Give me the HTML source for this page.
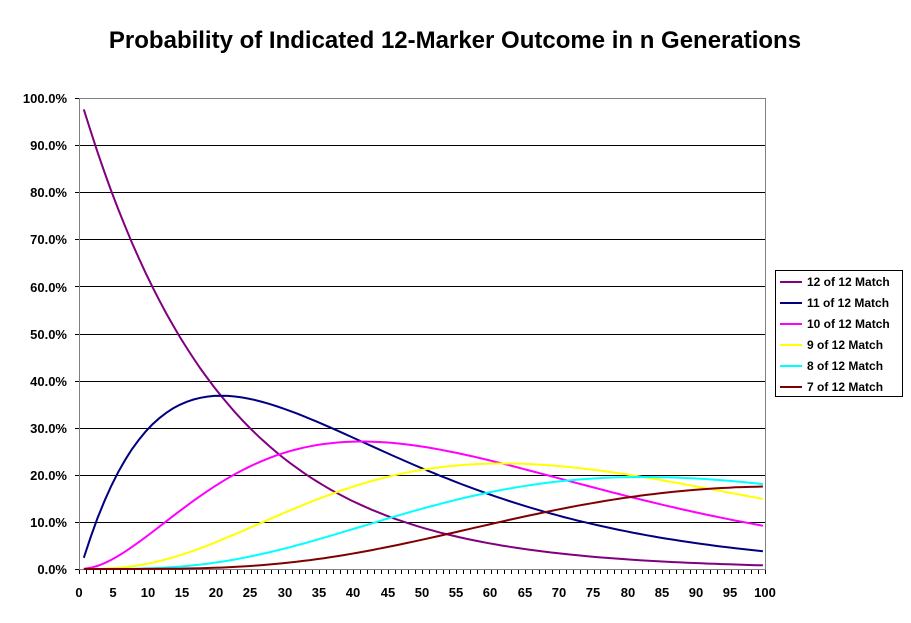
<!DOCTYPE html>
<html><head><meta charset="utf-8"><style>
html,body{margin:0;padding:0;background:#fff}
svg{display:block;font-family:"Liberation Sans",Arial,sans-serif}
</style></head><body>
<svg id="s" width="911" height="623" viewBox="0 0 911 623">
<text x="455" y="48" text-anchor="middle" font-size="24" font-weight="bold">Probability of Indicated 12-Marker Outcome in n Generations</text>
<g id="grid" stroke="#000" stroke-width="1"></g>
<rect x="79.5" y="98.5" width="686" height="471" fill="none" stroke="#808080"/>
<g font-size="13" font-weight="bold" text-anchor="end">
<text x="67" y="574">0.0%</text><text x="67" y="527">10.0%</text><text x="67" y="480">20.0%</text><text x="67" y="433">30.0%</text><text x="67" y="386">40.0%</text><text x="67" y="339">50.0%</text><text x="67" y="292">60.0%</text><text x="67" y="244">70.0%</text><text x="67" y="197">80.0%</text><text x="67" y="150">90.0%</text><text x="67" y="103">100.0%</text>
</g>
<g font-size="13" font-weight="bold" text-anchor="middle">
<text x="79" y="597">0</text><text x="113" y="597">5</text><text x="148" y="597">10</text><text x="182" y="597">15</text><text x="216" y="597">20</text><text x="250" y="597">25</text><text x="285" y="597">30</text><text x="319" y="597">35</text><text x="353" y="597">40</text><text x="388" y="597">45</text><text x="422" y="597">50</text><text x="456" y="597">55</text><text x="490" y="597">60</text><text x="525" y="597">65</text><text x="559" y="597">70</text><text x="593" y="597">75</text><text x="628" y="597">80</text><text x="662" y="597">85</text><text x="696" y="597">90</text><text x="730" y="597">95</text><text x="765" y="597">100</text>
</g>
<g id="series" fill="none" stroke-width="2"></g>
<rect x="775.5" y="270.5" width="127" height="126" fill="#fff" stroke="#000"/>
<g font-size="12" font-weight="bold">
<line x1="780" y1="282" x2="802" y2="282" stroke="#800080" stroke-width="2"/><text x="807" y="286">12 of 12 Match</text>
<line x1="780" y1="303" x2="802" y2="303" stroke="#000080" stroke-width="2"/><text x="807" y="307">11 of 12 Match</text>
<line x1="780" y1="324" x2="802" y2="324" stroke="#ff00ff" stroke-width="2"/><text x="807" y="328">10 of 12 Match</text>
<line x1="780" y1="345" x2="802" y2="345" stroke="#ffff00" stroke-width="2"/><text x="807" y="349">9 of 12 Match</text>
<line x1="780" y1="366" x2="802" y2="366" stroke="#00ffff" stroke-width="2"/><text x="807" y="370">8 of 12 Match</text>
<line x1="780" y1="387" x2="802" y2="387" stroke="#800000" stroke-width="2"/><text x="807" y="391">7 of 12 Match</text>
</g>
</svg>
<script>
var NS="http://www.w3.org/2000/svg",g=document.getElementById("grid"),s=document.getElementById("series");
function ln(x1,y1,x2,y2,p){var l=document.createElementNS(NS,"line");l.setAttribute("x1",x1);l.setAttribute("y1",y1);l.setAttribute("x2",x2);l.setAttribute("y2",y2);p.appendChild(l);}
for(var j=1;j<=9;j++){var y=Math.round(569-47.1*j)+0.5;ln(79,y,765,y,g);}
for(var j=0;j<=10;j++){var y=Math.round(569-47.1*j)+0.5;ln(75,y,79.5,y,g);}
ln(79.5,98,79.5,570,g);ln(79,569.5,766,569.5,g);
for(var k=0;k<=100;k++){var x=Math.round(79+6.86*k)+0.5;ln(x,569,x,574,g);}
var cols=["#800080","#000080","#ff00ff","#ffff00","#00ffff","#800000"],f=[1,1,2,6,24,120];
for(var m=0;m<6;m++){var pts=[];for(var i=1;i<=100;i++){var L=0.0488*(i-0.5);var p=Math.exp(-L)*Math.pow(L,m)/f[m];pts.push((79+6.86*(i-0.3)).toFixed(1)+","+(569-471*p).toFixed(1));}
var pl=document.createElementNS(NS,"polyline");pl.setAttribute("points",pts.join(" "));pl.setAttribute("stroke",cols[m]);s.appendChild(pl);}
</script>
</body></html>
